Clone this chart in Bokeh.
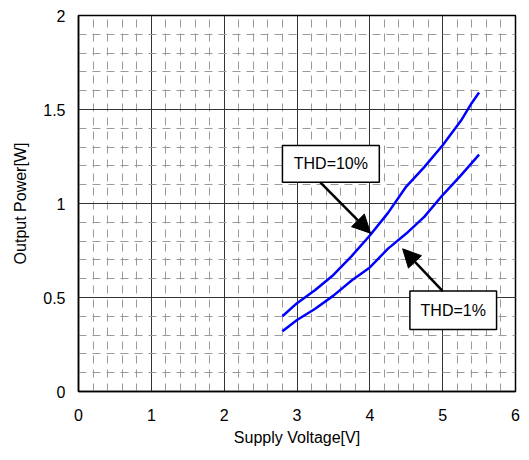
from bokeh.plotting import figure
from bokeh.models import (Range1d, SingleIntervalTicker, NumeralTickFormatter,
                          Arrow, NormalHead, ColumnDataSource)
from bokeh.core.properties import value
from bokeh.embed import file_html
from bokeh.resources import INLINE

# Data
thd10_v = [2.8, 3.0, 3.25, 3.5, 3.75, 4.0, 4.25, 4.5, 4.75, 5.0, 5.25, 5.4, 5.5]
thd10_p = [0.40, 0.47, 0.54, 0.62, 0.72, 0.83, 0.95, 1.09, 1.195, 1.31, 1.44, 1.535, 1.59]
thd1_v = [2.8, 3.0, 3.25, 3.5, 3.75, 4.0, 4.25, 4.5, 4.75, 5.0, 5.25, 5.5]
thd1_p = [0.32, 0.38, 0.44, 0.51, 0.59, 0.66, 0.76, 0.84, 0.93, 1.045, 1.15, 1.26]

labels = ["THD=10%", "THD=1%"]
label_box_left = [2.80, 4.55]
label_box_right = [4.13, 5.74]
label_box_bottom = [1.113, 0.33]
label_box_top = [1.309, 0.534]
arrow_tail_x = [3.32, 5.00]
arrow_tail_y = [1.113, 0.534]
arrow_tip_x = [4.01, 4.45]
arrow_tip_y = [0.842, 0.759]

FONT = "Liberation Sans"

p = figure(frame_width=437, frame_height=376,
           min_border_left=78, min_border_top=15, min_border_right=12, min_border_bottom=60,
           x_range=Range1d(0, 6), y_range=Range1d(0, 2),
           output_backend="svg", toolbar_location=None)

p.background_fill_color = "white"
p.border_fill_color = "white"
p.outline_line_color = "black"
p.outline_line_width = 1.5

p.xaxis.ticker = SingleIntervalTicker(interval=1, num_minor_ticks=5)
p.yaxis.ticker = SingleIntervalTicker(interval=0.5, num_minor_ticks=5)
p.xgrid.ticker = p.xaxis.ticker
p.ygrid.ticker = p.yaxis.ticker
p.yaxis.formatter = NumeralTickFormatter(format="0.[0]")

for g in (p.xgrid, p.ygrid):
    g.grid_line_color = "#333333"
    g.grid_line_width = 1
    g.minor_grid_line_color = "#9a9a9a"
    g.minor_grid_line_width = 1
    g.minor_grid_line_dash = "8 6"

for ax in (p.xaxis, p.yaxis):
    ax.axis_line_color = "black"
    ax.axis_line_width = 1.5
    ax.major_tick_in = 0
    ax.major_tick_out = 0
    ax.minor_tick_in = 0
    ax.minor_tick_out = 0
    ax.major_label_text_font = FONT
    ax.major_label_text_font_size = "16px"
    ax.major_label_text_color = "black"
    ax.axis_label_text_font = FONT
    ax.axis_label_text_font_size = "16px"
    ax.axis_label_text_font_style = "normal"
    ax.axis_label_text_color = "black"

p.xaxis.axis_label = "Supply Voltage[V]"
p.yaxis.axis_label = "Output Power[W]"
p.xaxis.major_label_standoff = 17
p.xaxis.axis_label_standoff = 5
p.yaxis.major_label_standoff = 13
p.yaxis.axis_label_standoff = 11

p.line(thd10_v, thd10_p, line_color="#0000FF", line_width=2.5)
p.line(thd1_v, thd1_p, line_color="#0000FF", line_width=2.5)

for i in range(2):
    p.add_layout(Arrow(end=NormalHead(size=18, fill_color="black", line_color="black"),
                       x_start=arrow_tail_x[i], y_start=arrow_tail_y[i],
                       x_end=arrow_tip_x[i], y_end=arrow_tip_y[i],
                       line_color="black", line_width=2.5))

box_src = ColumnDataSource(dict(left=label_box_left, right=label_box_right,
                                bottom=label_box_bottom, top=label_box_top,
                                cx=[(a + b) / 2 for a, b in zip(label_box_left, label_box_right)],
                                cy=[(a + b) / 2 for a, b in zip(label_box_bottom, label_box_top)],
                                text=labels))
p.quad(left="left", right="right", bottom="bottom", top="top", source=box_src,
       fill_color="white", line_color="black", line_width=1.5)
p.text(x="cx", y="cy", text="text", source=box_src, text_align="center",
       text_baseline="middle", text_font=value(FONT), text_font_size="16px",
       text_color="black")

open("out.html", "w").write(file_html(p, INLINE))
